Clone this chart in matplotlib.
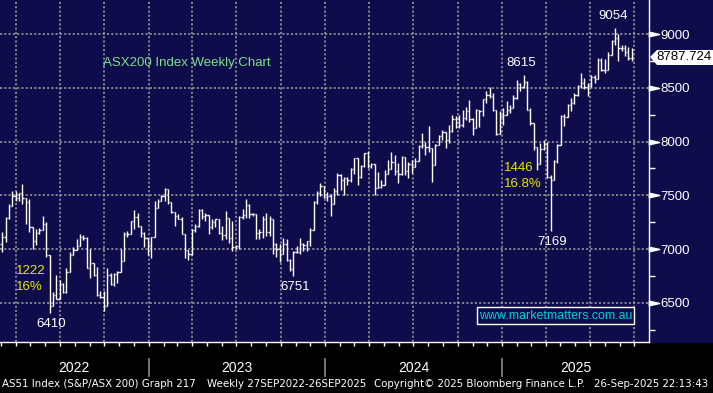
import numpy as np
import pandas as pd
import matplotlib
matplotlib.use("Agg")
import matplotlib.pyplot as plt
import matplotlib.dates as mdates
import matplotlib.transforms as mtransforms
from matplotlib.collections import LineCollection
from matplotlib.patches import Polygon, Rectangle

# ─────────────────────────────────────────────
# DATA  (ASX200 weekly bars)
# ─────────────────────────────────────────────

FIRST_WEEK = "2022-02-25"
LAST_WEEK = "2025-09-26"

highs_2022 = [7190, 7160, 7295, 7418, 7540, 7540, 7525, 7605, 7480, 7463,
              7205, 7190, 7200, 7305, 7250, 6950, 6600, 6762, 6716, 6686,
              6823, 6975, 7021, 7097, 7143, 7128, 7113, 7006, 6876, 6838,
              6609, 6610, 6823, 6777, 6777, 6800, 7006, 7158, 7170, 7265,
              7363, 7341, 7214, 7158, 7107]
lows_2022 = [6990, 6975, 7070, 7280, 7400, 7450, 7450, 7420, 7235, 7158,
             7005, 7035, 7140, 7180, 6930, 6410, 6475, 6533, 6539, 6594,
             6594, 6791, 6945, 6991, 7033, 7082, 6823, 6731, 6747, 6564,
             6548, 6426, 6474, 6670, 6655, 6690, 6790, 6892, 7113, 7141,
             7189, 7204, 7113, 7021, 6945]
closes_2022 = [7049, 7111, 7290, 7400, 7499, 7478, 7524, 7473, 7435, 7205,
               7075, 7146, 7182, 7238, 6950, 6475, 6578, 6539, 6678, 6605,
               6791, 6945, 6993, 7033, 7115, 7104, 6828, 6876, 6760, 6574,
               6560, 6474, 6762, 6680, 6770, 6790, 6892, 7140, 7141, 7259,
               7301, 7214, 7153, 7107, 7039]

highs_2023 = [7113, 7448, 7463, 7500, 7567, 7558, 7434, 7347, 7326, 7295,
              7144, 6995, 7189, 7230, 7372, 7370, 7341, 7320, 7280, 7285,
              7280, 7216, 7355, 7294, 7262, 7042, 7308, 7370, 7463, 7417,
              7340, 7330, 7185, 7308, 7340, 7308, 7279, 7060, 7046, 7108,
              7093, 6907, 6985, 7031, 7108, 7060, 7077, 7195, 7448, 7540,
              7617, 7590]
lows_2023 = [6915, 7110, 7386, 7452, 7448, 7417, 7341, 7219, 7280, 7143,
             6915, 6899, 6945, 7158, 7204, 7280, 7265, 7143, 7189, 7204,
             7143, 7082, 7093, 7062, 6985, 7000, 7000, 7278, 7293, 7293,
             7309, 7093, 7093, 7108, 7124, 7124, 6954, 6923, 6877, 6954,
             6892, 6800, 6751, 6969, 6954, 6985, 6985, 7031, 7180, 7417,
             7494, 7478]
closes_2023 = [7110, 7386, 7452, 7493, 7558, 7434, 7347, 7307, 7283, 7144,
               6995, 6955, 7178, 7220, 7362, 7309, 7320, 7206, 7256, 7279,
               7155, 7130, 7294, 7100, 7020, 7030, 7303, 7314, 7410, 7326,
               7330, 7148, 7159, 7279, 7157, 7279, 7049, 7000, 6955, 7051,
               6900, 6812, 6978, 6977, 7049, 7040, 7074, 7180, 7442, 7520,
               7590, 7489]

highs_2024 = [7530, 7509, 7565, 7705, 7700, 7674, 7674, 7751, 7850, 7850,
              7783, 7896, 7916, 7800, 7788, 7720, 7640, 7736, 7829, 7907,
              7876, 7798, 7865, 7861, 7814, 7829, 7845, 7969, 8078, 8000,
              8148, 7943, 7980, 8060, 8109, 8093, 8155, 8248, 8240, 8248,
              8295, 8326, 8388, 8217, 8300, 8295, 8400, 8466, 8512, 8450,
              8296, 8280]
lows_2024 = [7448, 7308, 7421, 7503, 7550, 7503, 7596, 7627, 7700, 7596,
             7658, 7767, 7751, 7751, 7503, 7565, 7565, 7600, 7700, 7749,
             7690, 7612, 7690, 7690, 7658, 7705, 7767, 7819, 7938, 7876,
             7907, 7627, 7778, 7969, 8016, 7938, 7990, 8093, 8124, 8124,
             8140, 8202, 8186, 8062, 8130, 8140, 8240, 8357, 8404, 8280,
             8062, 8067]
closes_2024 = [7498, 7421, 7540, 7690, 7645, 7658, 7643, 7745, 7847, 7670,
               7770, 7890, 7773, 7788, 7567, 7575, 7600, 7700, 7749, 7814,
               7727, 7702, 7861, 7724, 7796, 7768, 7819, 7959, 7971, 7950,
               7943, 7778, 7970, 8050, 8091, 8013, 8099, 8210, 8212, 8150,
               8215, 8283, 8211, 8130, 8295, 8285, 8394, 8436, 8421, 8296,
               8067, 8235]

highs_2025 = [8311, 8373, 8342, 8435, 8575, 8543, 8615, 8559, 8311, 8171,
              7953, 7984, 8016, 8000, 7689, 7830, 7980, 8245, 8255, 8347,
              8408, 8454, 8530, 8638, 8592, 8546, 8623, 8623, 8776, 8776,
              8770, 8837, 8945, 9054, 9000, 8899, 8899, 8880, 8868]
lows_2025 = [8155, 8250, 8264, 8309, 8400, 8466, 8497, 8295, 8155, 7922,
             7736, 7789, 7922, 7660, 7169, 7643, 7800, 7968, 8147, 8231,
             8285, 8347, 8423, 8500, 8485, 8423, 8510, 8546, 8580, 8653,
             8638, 8662, 8807, 8900, 8745, 8838, 8791, 8758, 8745]
closes_2025 = [8250, 8294, 8309, 8408, 8532, 8511, 8555, 8297, 8172, 7948,
               7789, 7932, 7982, 7667, 7646, 7819, 7968, 8238, 8231, 8343,
               8361, 8435, 8515, 8548, 8505, 8514, 8603, 8580, 8757, 8666,
               8662, 8807, 8938, 8967, 8870, 8871, 8831, 8774, 8787.724]

Y_TICKS = [6500, 7000, 7500, 8000, 8500, 9000]
Y_MINOR = [6250, 6750, 7250, 7750, 8250, 8750]
YEARS = [2022, 2023, 2024, 2025]
LAST_PRICE = "8787.724"
PEAK_LABELS = ["9054", "8615"]
TROUGH_LABELS = ["7169", "6751", "6410"]

TITLE = "ASX200 Index Weekly Chart"
WEBSITE = "www.marketmatters.com.au"
FOOTER = ["AS51 Index (S&P/ASX 200) Graph 217",
          "Weekly 27SEP2022-26SEP2025",
          "Copyright\u00a9 2025 Bloomberg Finance L.P.",
          "26-Sep-2025 22:13:43"]

# ─────────────────────────────────────────────
# STYLE
# ─────────────────────────────────────────────

W, H = 713, 393
NAVY = "#0e0c4a"
GRID = "#a0a0a0"
GREEN = "#7ee08a"
YELLOW = "#e6e600"
CYAN = "#00d2dc"
FONT = "Liberation Sans"

PLOT_RIGHT = 649   # px, right axis line
PLOT_BOTTOM = 342  # px, bottom axis line


def fx(px):
    return px / W


def fy(py):
    return 1 - py / H


# ─────────────────────────────────────────────
# PLOT
# ─────────────────────────────────────────────

weeks = pd.date_range(FIRST_WEEK, LAST_WEEK, freq="W-FRI")
highs = np.array(highs_2022 + highs_2023 + highs_2024 + highs_2025, dtype=float)
lows = np.array(lows_2022 + lows_2023 + lows_2024 + lows_2025, dtype=float)
closes = np.array(closes_2022 + closes_2023 + closes_2024 + closes_2025, dtype=float)
opens = np.r_[closes[0], closes[:-1]]
x = mdates.date2num(weeks)

fig = plt.figure(figsize=(W / 100, H / 100), dpi=100, facecolor="black")
fig.patches.append(Rectangle((0, fy(PLOT_BOTTOM)), 1, 1 - fy(PLOT_BOTTOM),
                             transform=fig.transFigure, color=NAVY, zorder=-10))

ax = fig.add_axes([0, fy(PLOT_BOTTOM), fx(PLOT_RIGHT), 1 - fy(PLOT_BOTTOM)])
ax.set_facecolor(NAVY)
ax.set_zorder(1)

# OHLC bars: vertical high-low, open tick left, close tick right
tick = 2.6
segs = []
for xi, o, hi, lo, c in zip(x, opens, highs, lows, closes):
    segs.append([(xi, lo), (xi, hi)])
    segs.append([(xi - tick, o), (xi, o)])
    segs.append([(xi, c), (xi + tick, c)])
ax.add_collection(LineCollection(segs, colors="white", linewidths=1.0,
                                 capstyle="butt", zorder=3))

ax.set_ylim(6137.5, 9316)
ax.set_xlim(x[0] + 2.5, x[0] + 1344.5)

# axes / grid
for s in ("top", "left"):
    ax.spines[s].set_visible(False)
for s in ("right", "bottom"):
    ax.spines[s].set_color("white")
    ax.spines[s].set_linewidth(1.0)

quarters = pd.date_range("2022-04-01", "2025-10-01", freq="QS")
months = pd.date_range("2022-03-01", "2025-10-01", freq="MS")
ax.set_xticks(mdates.date2num(quarters))
ax.set_xticks(mdates.date2num(months), minor=True)
ax.tick_params(axis="x", which="both", length=3, width=1, color="white",
               direction="out", labelbottom=False)

ax.yaxis.tick_right()
ax.set_yticks(Y_TICKS)
ax.set_yticks(Y_MINOR, minor=True)
ax.set_yticklabels([str(v) for v in Y_TICKS])
ax.tick_params(axis="y", which="major", length=0, pad=8, labelsize=9.5,
               labelcolor="white")
ax.tick_params(axis="y", which="minor", length=4, width=1, color="white",
               direction="out")
for lab in ax.get_yticklabels():
    lab.set_fontfamily(FONT)

ax.grid(True, which="major", color=GRID, linestyle=(0, (1.4, 1.4)),
        linewidth=1.1, zorder=1)
ax.set_axisbelow(True)

# triangle markers on the right axis
tri = mtransforms.offset_copy(
    mtransforms.blended_transform_factory(ax.transAxes, ax.transData),
    fig=fig, x=5, y=0, units="dots")
ax.plot([1.0] * len(Y_TICKS), Y_TICKS, linestyle="none",
        marker=[(-1, 0.45), (1, 0), (-1, -0.45), (-1, 0.45)],
        markersize=7.5, color="white", transform=tri, clip_on=False)

# last-price tag
tag = Polygon([(fx(650), fy(57)), (fx(657), fy(50)), (fx(713), fy(50)),
               (fx(713), fy(65)), (fx(657), fy(65))],
              closed=True, transform=fig.transFigure, facecolor="white",
              edgecolor="none", zorder=5)
fig.patches.append(tag)
fig.text(fx(684), fy(57.5), LAST_PRICE, color="black", fontsize=9.5,
         family=FONT, ha="center", va="center", zorder=6)

# year labels and separators
blend_x = mtransforms.blended_transform_factory(ax.transData, ax.transAxes)
lo_x, hi_x = ax.get_xlim()
starts = [mdates.date2num(pd.Timestamp(f"{y}-01-01")) for y in YEARS]
for i, y in enumerate(YEARS):
    a = max(starts[i], lo_x)
    b = starts[i + 1] if i + 1 < len(starts) else hi_x
    ax.text((a + b) / 2, -26 / PLOT_BOTTOM, str(y), transform=blend_x,
            color="white", fontsize=10, family=FONT, ha="center", va="center")
for s in starts[1:]:
    ax.plot([s, s], [-17 / PLOT_BOTTOM, -34 / PLOT_BOTTOM], color="#8a8a8a",
            linewidth=1.2, transform=blend_x, clip_on=False)

# annotations on highs / lows
for lab in PEAK_LABELS:
    i = int(np.flatnonzero(highs == float(lab))[0])
    ax.annotate(lab, (x[i], highs[i]), xytext=(-2, 12), textcoords="offset pixels",
                color="white", fontsize=9.5, family=FONT, ha="center", va="center")
for lab in TROUGH_LABELS:
    i = int(np.flatnonzero(lows == float(lab))[0])
    ax.annotate(lab, (x[i], lows[i]), xytext=(2, -11), textcoords="offset pixels",
                color="white", fontsize=9.5, family=FONT, ha="center", va="center")

fig.text(fx(103), fy(63), TITLE, color=GREEN, fontsize=9.5, family=FONT,
         ha="left", va="center", zorder=6)
fig.text(fx(16), fy(271), "1222", color=YELLOW, fontsize=9.5, family=FONT,
         ha="left", va="center", zorder=6)
fig.text(fx(16), fy(287), "16%", color=YELLOW, fontsize=9.5, family=FONT,
         ha="left", va="center", zorder=6)
fig.text(fx(504), fy(168), "1446", color=YELLOW, fontsize=9.5, family=FONT,
         ha="left", va="center", zorder=6)
fig.text(fx(504), fy(184), "16.8%", color=YELLOW, fontsize=9.5, family=FONT,
         ha="left", va="center", zorder=6)

# website box
fig.patches.append(Rectangle((fx(477), fy(324)), fx(634) - fx(477), fy(307) - fy(324),
                             transform=fig.transFigure, facecolor=NAVY,
                             edgecolor="white", linewidth=1.0, zorder=5))
fig.text(fx(555.5), fy(316), WEBSITE, color=CYAN, fontsize=8.9, family=FONT,
         ha="center", va="center", zorder=6)

# footer
for px, txt in zip([2, 207, 374, 594], FOOTER):
    fig.text(fx(px), fy(384), txt, color="white", fontsize=7.4,
             family="DejaVu Sans", ha="left", va="center")

fig.savefig("out.png", dpi=100, facecolor="black")
